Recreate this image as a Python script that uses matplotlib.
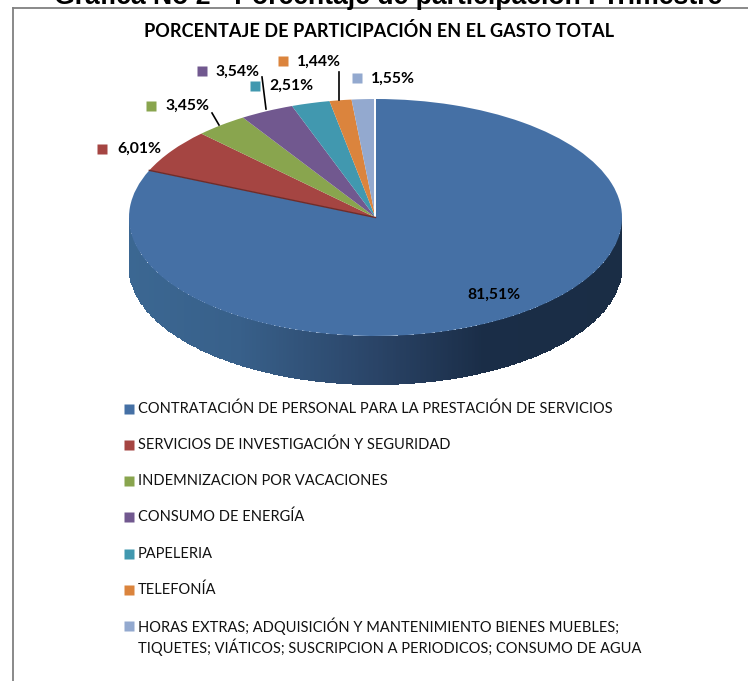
import numpy as np
import matplotlib
matplotlib.use("Agg")
import matplotlib.pyplot as plt
from matplotlib.colors import LinearSegmentedColormap

W, H = 748, 681
categories = ["CONTRATACIÓN DE PERSONAL PARA LA PRESTACIÓN DE SERVICIOS",
              "SERVICIOS DE INVESTIGACIÓN Y SEGURIDAD",
              "INDEMNIZACION POR VACACIONES",
              "CONSUMO DE ENERGÍA",
              "PAPELERIA",
              "TELEFONÍA",
              "HORAS EXTRAS; ADQUISICIÓN Y MANTENIMIENTO BIENES MUEBLES;\nTIQUETES; VIÁTICOS; SUSCRIPCION A PERIODICOS; CONSUMO DE AGUA"]
values = [81.51, 6.01, 3.45, 3.54, 2.51, 1.44, 1.55]
colors = ["#4570A5", "#A54542", "#89A54E", "#71588F", "#4198AF", "#DB843D", "#93A9CF"]
labels = ["81,51%", "6,01%", "3,45%", "3,54%", "2,51%", "1,44%", "1,55%"]

cx, cy, rx, ry, depth = 375.5, 217.5, 246.5, 118.5, 49.0

fig = plt.figure(figsize=(W / 100, H / 100), dpi=100, facecolor="white")
ax = fig.add_axes([0, 0, 1, 1])
ax.pie(values, colors=colors, startangle=90, counterclock=False, radius=1,
       wedgeprops=dict(linewidth=0.5, edgecolor="none"))
ax.set_aspect("auto")
ax.set_xlim(-cx / rx, (W - cx) / rx)
ax.set_ylim((cy - H) / ry, cy / ry)

# Side wall of the 3-D disc, in axes data units
xs = np.linspace(-1, 1, 401)
top = -np.sqrt(1 - xs ** 2)
X = np.vstack([xs, xs])
Y = np.vstack([top, top - depth / ry])
cmap = LinearSegmentedColormap.from_list(
    "wall", [(0, "#3B6792"), (0.22, "#38608A"), (0.5, "#2A4467"), (0.72, "#1A2D47"), (1, "#1A2D45")])
C = ((xs[:-1] + xs[1:]) / 2 + 1)[None, :] / 2
ax.pcolormesh(X, Y, C, cmap=cmap, vmin=0, vmax=1, shading="flat", zorder=0.5, rasterized=True)

# Overlay in pixel coordinates
ov = fig.add_axes([0, 0, 1, 1], facecolor="none")
ov.set_xlim(0, W)
ov.set_ylim(H, 0)
ov.axis("off")

# White seam at the start of the first slice and dark seam at its end
ov.plot([cx, cx], [cy, cy - ry], color="white", lw=1.4, solid_capstyle="butt")
th = np.deg2rad(-(100 - values[0]) * 3.6)
ov.plot([cx, cx + rx * np.sin(th)], [cy, cy - ry * np.cos(th)], color="#6E2C2A", lw=1.0)

# Frame
ov.plot([13, 13], [H, 8], color="#808080", lw=1.3)
ov.plot([13, W], [8, 8], color="#808080", lw=1.3)

ov.text(388, 3.5, "Gráfica No 2 - Porcentaje de participación I Trimestre",
        family="Liberation Sans", weight="bold", fontsize=19.2, ha="center", va="baseline", color="black")
ov.text(379, 31, "PORCENTAJE DE PARTICIPACIÓN EN EL GASTO TOTAL",
        family="Lato", weight="bold", fontsize=13.1, ha="center", va="center", color="black")

# Data labels: text position, marker position
lab_pos = [(494, 295, None), (139, 149, (102, 149)), (188, 106, (151, 106)),
           (238, 72, (202, 71)), (291, 86, (255, 86)), (319, 62, (283, 61)), (393, 79, (357, 78))]
for (x, y, m), t, c in zip(lab_pos, labels, colors):
    ov.text(x, y, t, family="Lato", weight="bold", fontsize=11.3, ha="center", va="center", color="black", zorder=5)
    if m:
        ov.plot(*m, marker="s", ms=6.8, color=c, mec="none", ls="none")

# Leader lines
for x0, y0, x1, y1 in [(212, 113, 219, 125), (262, 77, 266, 109), (339, 72, 339, 100)]:
    ov.plot([x0, x1], [y0, y1], color="black", lw=1.2)

# Legend
leg_y = [409, 445, 481, 517, 554, 590, 626]
for y, t, c in zip(leg_y, categories, colors):
    ov.plot(129, y, marker="s", ms=6.8, color=c, mec="none", ls="none")
    multi = "\n" in t
    ov.text(138, y + 10.5 if multi else y, t, family="Lato", fontsize=10.5, ha="left",
            va="center", color="#111111", linespacing=1.22)

fig.savefig("out.png", dpi=100)
